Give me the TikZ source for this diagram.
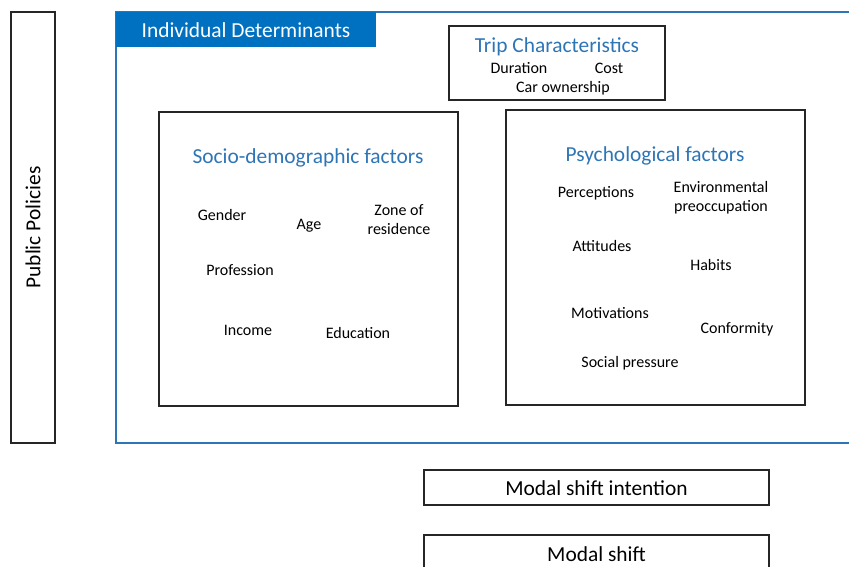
\documentclass[tikz,border=0pt]{standalone}
\usepackage{fontspec}
\setmainfont{Carlito}
\definecolor{hdrblue}{RGB}{0,112,192}
\definecolor{ttlblue}{RGB}{46,117,182}
\begin{document}
\begin{tikzpicture}[x=1pt,y=-1pt,
  box/.style={draw=black!85,line width=1.1pt,inner sep=0pt},
  item/.style={font=\fontsize{16}{19.5}\selectfont,align=center,inner sep=0pt,yshift=-1pt},
  ttl/.style={font=\fontsize{21.4}{25}\selectfont,text=ttlblue,inner sep=0pt,yshift=-1.8pt},
  big/.style={font=\fontsize{21.4}{25}\selectfont,inner sep=0pt,yshift=-1pt}]
\useasboundingbox (0,0) rectangle (849,567);
% Public policies
\node[box,minimum width=44pt,minimum height=431pt] (pp) at (33,227.5) {};
\node[font=\fontsize{21.4}{25}\selectfont,inner sep=0pt,rotate=90] (ppt) at (pp.center) {Public Policies};
% Individual determinants frame
\draw[ttlblue,line width=2pt] (860,12) -- (116,12) -- (116,443) -- (860,443);
\node[fill=hdrblue,minimum width=260pt,minimum height=35pt,inner sep=0pt,anchor=north west] (hdr) at (116,12) {};
\node[font=\fontsize{21.4}{25}\selectfont,text=white,inner sep=0pt,yshift=-0.5pt] (hdrt) at (246,30) {Individual Determinants};
% Trip characteristics
\node[box,minimum width=216pt,minimum height=74pt] (trip) at (557,63) {};
\node[ttl] (tript) at (557,45) {Trip Characteristics};
\node[item] (dur) at (519,67) {Duration};
\node[item] (cost) at (609,67) {Cost};
\node[item] (car) at (563,87) {Car ownership};
% Socio-demographic
\node[box,minimum width=299pt,minimum height=294pt] (socio) at (308.5,259) {};
\node[ttl] (sociot) at (308,156) {Socio-demographic factors};
\node[item] (gender) at (222,214) {Gender};
\node[item] (age) at (309,225) {Age};
\node[item] (zone) at (399,218.5) {Zone of\\residence};
\node[item] (prof) at (240,269) {Profession};
\node[item] (inc) at (248,329) {Income};
\node[item] (edu) at (358,332) {Education};
% Psychological
\node[box,minimum width=299pt,minimum height=295pt] (psy) at (655.5,257.5) {};
\node[ttl] (psyt) at (655,154) {Psychological factors};
\node[item] (perc) at (596,192) {Perceptions};
\node[item] (env) at (721,196.5) {Environmental\\preoccupation};
\node[item] (att) at (602,245) {Attitudes};
\node[item] (hab) at (711,264) {Habits};
\node[item] (mot) at (610,312) {Motivations};
\node[item] (conf) at (737,328) {Conformity};
\node[item] (soc) at (630,362) {Social pressure};
% Modal shift
\node[box,minimum width=345pt,minimum height=35pt] (msi) at (596.5,487.5) {};
\node[big] (msit) at (msi.center) {Modal shift intention};
\draw[black!85,line width=1.1pt] (424,575) -- (424,535) -- (769,535) -- (769,575);
\coordinate (msc) at (596.5,553);
\node[big] (mst) at (msc) {Modal shift};
\end{tikzpicture}
\end{document}
